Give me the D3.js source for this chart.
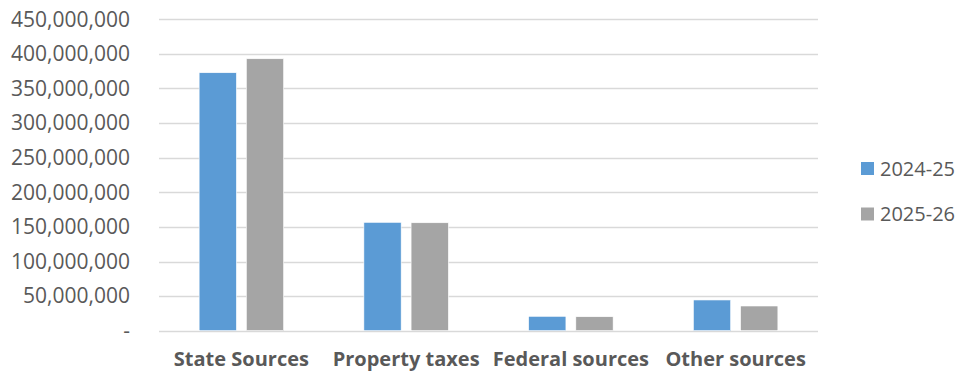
<!DOCTYPE html>
<html>
<head>
<meta charset="utf-8">
<script src="https://cdn.jsdelivr.net/npm/d3@7"></script>
<style>
  body { margin: 0; background: #fff; }
  text { font-family: "Open Sans", sans-serif; fill: #595959; }
</style>
</head>
<body>
<svg id="chart" width="960" height="372"></svg>
<script>
const categories = ["State Sources", "Property taxes", "Federal sources", "Other sources"];
const seriesNames = ["2024-25", "2025-26"];
const values2024 = [372800000, 156600000, 20800000, 44400000];
const values2025 = [393000000, 156000000, 20200000, 35700000];
const yTicks = [0, 50000000, 100000000, 150000000, 200000000, 250000000, 300000000, 350000000, 400000000, 450000000];
const colors = ["#5b9bd5", "#a5a5a5"];

const svg = d3.select("#chart");
const plotL = 159, plotR = 818, plotT = 19.3, plotB = 330.7;

const y = d3.scaleLinear().domain([0, 450000000]).range([plotB, plotT]);
const x0 = d3.scaleBand().domain(categories).range([plotL, plotR]).padding(0);
const x1 = d3.scaleBand().domain(seriesNames).range([0, x0.bandwidth()])
  .paddingInner(0.21).paddingOuter(0.85);

// gridlines
svg.append("g").selectAll("line")
  .data(yTicks)
  .join("line")
  .attr("x1", plotL).attr("x2", plotR)
  .attr("y1", d => Math.round(y(d)) + 0.5).attr("y2", d => Math.round(y(d)) + 0.5)
  .attr("stroke", "#d9d9d9").attr("stroke-width", 1.5);

// y labels
const fmt = d3.format(",");
svg.append("g").selectAll("text")
  .data(yTicks)
  .join("text")
  .attr("x", 130)
  .attr("y", d => y(d))
  .attr("dy", "0.35em")
  .attr("text-anchor", "end")
  .style("font-size", "21px")
  .text(d => d === 0 ? "-" : fmt(d));

// bars
const rows = categories.map((c, i) => ({ cat: c, vals: [values2024[i], values2025[i]] }));
const groups = svg.append("g").selectAll("g")
  .data(rows)
  .join("g")
  .attr("transform", d => `translate(${x0(d.cat)},0)`);

groups.selectAll("rect")
  .data(d => d.vals.map((v, i) => ({ s: seriesNames[i], v, i })))
  .join("rect")
  .attr("x", d => x1(d.s))
  .attr("width", x1.bandwidth())
  .attr("y", d => y(d.v))
  .attr("height", d => y(0) - y(d.v))
  .attr("fill", d => colors[d.i])
  .attr("stroke", "#fff").attr("stroke-width", 0.6);

// category labels
svg.append("g").selectAll("text")
  .data(categories)
  .join("text")
  .attr("x", d => x0(d) + x0.bandwidth() / 2)
  .attr("y", 366)
  .attr("text-anchor", "middle")
  .style("font-size", "20px")
  .style("font-weight", "bold")
  .text(d => d);

// legend
const legend = svg.append("g").selectAll("g")
  .data(seriesNames)
  .join("g")
  .attr("transform", (d, i) => `translate(861,${162 + i * 45.5})`);
legend.append("rect").attr("width", 13).attr("height", 13).attr("fill", (d, i) => colors[i]);
legend.append("text").attr("x", 19).attr("y", 13.5).style("font-size", "20px").text(d => d);
</script>
</body>
</html>
